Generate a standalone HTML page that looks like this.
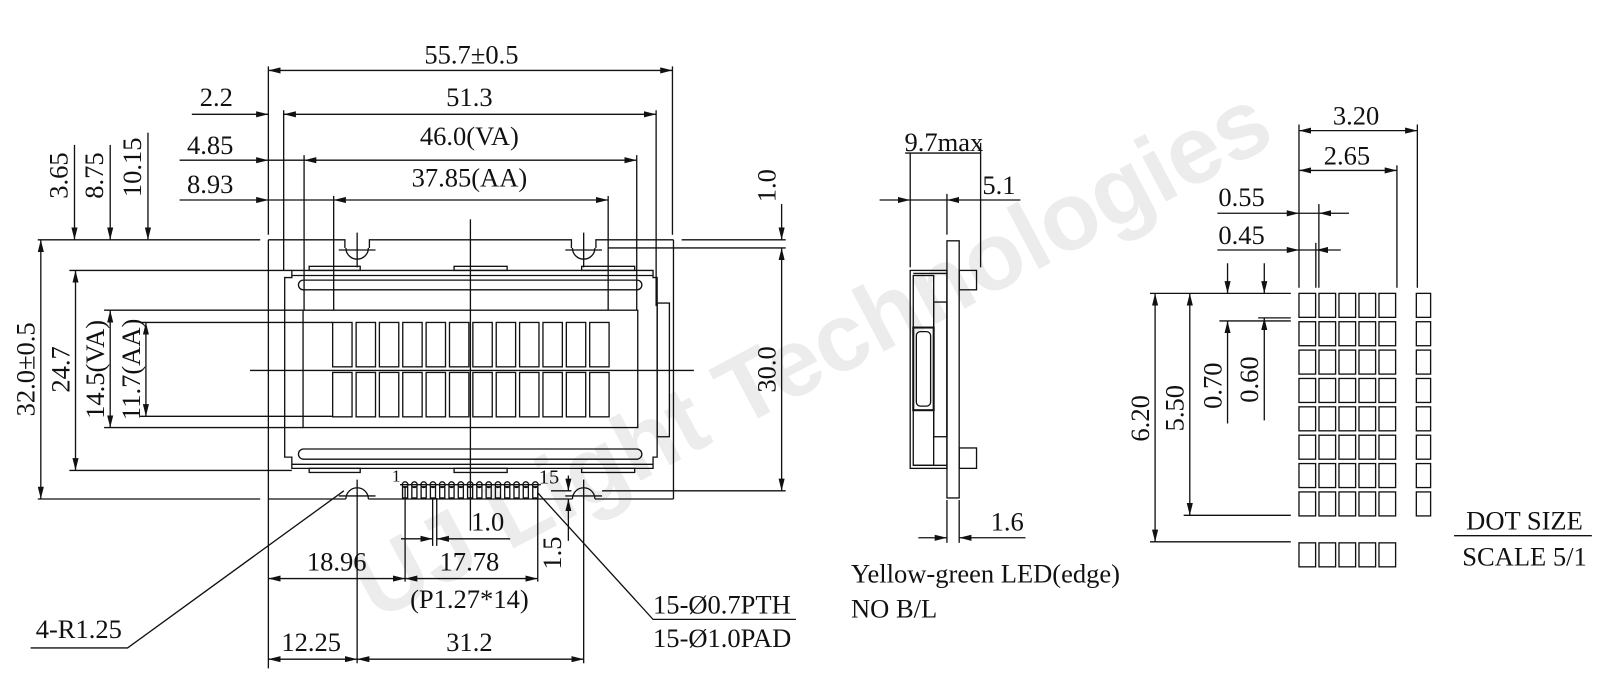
<!DOCTYPE html>
<html><head><meta charset="utf-8"><style>
html,body{margin:0;padding:0;background:#fff;width:1600px;height:700px;overflow:hidden}
svg text{font-family:"Liberation Serif",serif;fill:#111}
</style></head><body>
<svg width="1600" height="700" viewBox="0 0 1568 686" xmlns="http://www.w3.org/2000/svg">
<defs>
<marker id="a" viewBox="0 0 12 6" refX="12" refY="3" markerWidth="12" markerHeight="6" orient="auto-start-reverse" markerUnits="userSpaceOnUse"><path d="M0,0 L12,3 L0,6 z" fill="#111"/></marker>
</defs>
<!-- watermark -->
<text x="795" y="378" transform="rotate(-28 795 345)" text-anchor="middle" style="font-family:'Liberation Sans',sans-serif;font-weight:bold;font-size:94px;fill:#ececec">UJ Light Technologies</text>

<g stroke="#111" stroke-width="1.3" fill="none">
<line x1="263" y1="69" x2="659" y2="69" marker-start="url(#a)" marker-end="url(#a)"/>
<line x1="188" y1="112" x2="263" y2="112" marker-end="url(#a)"/>
<line x1="278" y1="112" x2="643" y2="112" marker-start="url(#a)" marker-end="url(#a)"/>
<line x1="176" y1="157" x2="263" y2="157" marker-end="url(#a)"/>
<line x1="263" y1="157" x2="298" y2="157"/>
<line x1="298" y1="157" x2="624" y2="157" marker-start="url(#a)" marker-end="url(#a)"/>
<line x1="176" y1="196" x2="263" y2="196" marker-end="url(#a)"/>
<line x1="263" y1="196" x2="327" y2="196"/>
<line x1="327" y1="196" x2="596" y2="196" marker-start="url(#a)" marker-end="url(#a)"/>
<line x1="263" y1="65" x2="263" y2="230"/>
<line x1="659" y1="65" x2="659" y2="230"/>
<line x1="278" y1="108" x2="278" y2="265"/>
<line x1="643" y1="108" x2="643" y2="300"/>
<line x1="298" y1="152" x2="298" y2="304"/>
<line x1="624" y1="152" x2="624" y2="304"/>
<line x1="327" y1="192" x2="327" y2="304"/>
<line x1="596" y1="192" x2="596" y2="304"/>
<line x1="73" y1="142" x2="73" y2="235" marker-end="url(#a)"/>
<line x1="108" y1="142" x2="108" y2="235" marker-end="url(#a)"/>
<line x1="145" y1="130" x2="145" y2="235" marker-end="url(#a)"/>
<line x1="37" y1="235" x2="255" y2="235"/>
<polyline points="263,235 338,235 338,243"/>
<polyline points="362,243 362,235 560,235 560,243"/>
<polyline points="584,243 584,235 660,235"/>
<line x1="596" y1="243" x2="770" y2="243"/>
<line x1="668" y1="235" x2="770" y2="235"/>
<line x1="766" y1="200" x2="766" y2="235" marker-end="url(#a)"/>
<line x1="766" y1="243" x2="766" y2="481" marker-start="url(#a)" marker-end="url(#a)"/>
<line x1="263" y1="235" x2="263" y2="489"/>
<line x1="660" y1="235" x2="660" y2="489"/>
<path d="M339,243 A11,11 0 0 0 361,243 M350,228 L350,262 M332,245 L368,245"/>
<path d="M561,243 A11,11 0 0 0 583,243 M572,228 L572,262 M554,245 L590,245"/>
<path d="M339,489 A11,11 0 0 1 361,489 M350,470 L350,650 M332,486 L368,486"/>
<path d="M561,489 A11,11 0 0 1 583,489 M572,470 L572,650 M554,486 L590,486"/>
<line x1="263" y1="489" x2="339" y2="489"/><line x1="361" y1="489" x2="561" y2="489"/><line x1="583" y1="489" x2="660" y2="489"/>
<line x1="37" y1="489" x2="255" y2="489"/>
<line x1="590" y1="481" x2="770" y2="481"/>
<line x1="40" y1="235" x2="40" y2="489" marker-start="url(#a)" marker-end="url(#a)"/>
<line x1="68" y1="265" x2="286" y2="265"/>
<line x1="74" y1="265" x2="74" y2="461" marker-start="url(#a)" marker-end="url(#a)"/>
<line x1="68" y1="461" x2="286" y2="461"/>
<line x1="102" y1="304" x2="297" y2="304"/>
<line x1="108" y1="304" x2="108" y2="419" marker-start="url(#a)" marker-end="url(#a)"/>
<line x1="102" y1="419" x2="297" y2="419"/>
<line x1="137" y1="316" x2="326" y2="316"/>
<line x1="143" y1="316" x2="143" y2="408" marker-start="url(#a)" marker-end="url(#a)"/>
<line x1="137" y1="408" x2="326" y2="408"/>
<path d="M286,265 L640,265 L640,272 L644,272 L644,448 L640,448 L640,459 L286,459 L286,448 L279,448 L279,272 L286,272 Z"/>
<line x1="286" y1="270" x2="640" y2="270"/>
<line x1="286" y1="455" x2="640" y2="455"/>
<rect x="292.5" y="274.5" width="336.5" height="9.5" rx="4.75"/>
<rect x="292.5" y="440" width="336.5" height="10" rx="5"/>
<rect x="303" y="261" width="50" height="4"/><rect x="445" y="261" width="52" height="4"/><rect x="570" y="261" width="52" height="4"/>
<rect x="303" y="459" width="50" height="4"/><rect x="445" y="459" width="52" height="4"/><rect x="570" y="459" width="52" height="4"/>
<rect x="644" y="297" width="12" height="131"/>
<rect x="297" y="304" width="328" height="115"/>
<line x1="461" y1="215" x2="461" y2="520"/>
<line x1="245" y1="363" x2="680" y2="363"/>
<g id="row">
<rect x="326" y="316" width="19" height="43.5"/><rect x="349" y="316" width="19" height="43.5"/><rect x="371.8" y="316" width="19" height="43.5"/><rect x="394.7" y="316" width="19" height="43.5"/><rect x="417.6" y="316" width="19" height="43.5"/><rect x="440.5" y="316" width="19" height="43.5"/><rect x="463.4" y="316" width="19" height="43.5"/><rect x="486.3" y="316" width="19" height="43.5"/><rect x="509.2" y="316" width="19" height="43.5"/><rect x="532.1" y="316" width="19" height="43.5"/><rect x="555" y="316" width="19" height="43.5"/><rect x="577.9" y="316" width="19" height="43.5"/>
</g>
<use href="#row" y="49"/>
<g id="pin"><circle cx="397" cy="475" r="2.8"/><rect x="394.5" y="477" width="5" height="11"/></g>
<use href="#pin" x="9.1"/><use href="#pin" x="18.2"/><use href="#pin" x="27.3"/><use href="#pin" x="36.4"/><use href="#pin" x="45.5"/><use href="#pin" x="54.6"/><use href="#pin" x="63.7"/><use href="#pin" x="72.8"/><use href="#pin" x="81.9"/><use href="#pin" x="91"/><use href="#pin" x="100.1"/><use href="#pin" x="109.2"/><use href="#pin" x="118.3"/><use href="#pin" x="127.6"/>
<line x1="392" y1="475" x2="530" y2="475"/>
<line x1="397" y1="478" x2="397" y2="570"/>
<line x1="527" y1="478" x2="527" y2="570"/>
<line x1="424" y1="488" x2="424" y2="535"/><line x1="428" y1="488" x2="428" y2="535"/>
<line x1="393" y1="528" x2="424" y2="528" marker-end="url(#a)"/>
<line x1="428" y1="528" x2="500" y2="528" marker-start="url(#a)"/>
<line x1="263" y1="567" x2="397" y2="567" marker-start="url(#a)" marker-end="url(#a)"/>
<line x1="397" y1="567" x2="527" y2="567" marker-start="url(#a)" marker-end="url(#a)"/>
<line x1="263" y1="489" x2="263" y2="655"/>
<line x1="263" y1="646" x2="350" y2="646" marker-start="url(#a)" marker-end="url(#a)"/>
<line x1="350" y1="646" x2="572" y2="646" marker-start="url(#a)" marker-end="url(#a)"/>
<line x1="557" y1="530" x2="557" y2="489" marker-end="url(#a)"/>
<line x1="557" y1="466" x2="557" y2="481" marker-end="url(#a)"/>
<line x1="540" y1="481" x2="560" y2="481"/>
<polyline points="30,635 125,635 337,481"/>
<polyline points="780,607 640,607 527,483"/>

<line x1="862" y1="196" x2="892" y2="196" marker-end="url(#a)"/>
<line x1="892" y1="196" x2="928" y2="196"/>
<line x1="928" y1="196" x2="1000" y2="196" marker-start="url(#a)"/>
<line x1="887" y1="150" x2="961" y2="150"/>
<line x1="892" y1="150" x2="892" y2="262"/>
<line x1="961" y1="140" x2="961" y2="262"/>
<line x1="928" y1="190" x2="928" y2="230"/>
<rect x="928" y="236" width="12" height="252"/>
<rect x="892" y="265" width="36" height="194"/>
<polyline points="895,268 928,268"/><polyline points="895,456 928,456"/>
<rect x="895" y="270" width="20" height="186"/>
<rect x="915" y="296" width="13" height="132"/>
<rect x="895" y="321" width="20" height="81" stroke-width="2"/>
<rect x="898" y="325" width="14" height="73" rx="4"/>
<rect x="940" y="265" width="17" height="19"/>
<rect x="940" y="439" width="17" height="20"/>
<line x1="928" y1="490" x2="928" y2="532"/><line x1="940" y1="490" x2="940" y2="532"/>
<line x1="900" y1="527" x2="928" y2="527" marker-end="url(#a)"/>
<line x1="940" y1="527" x2="1005" y2="527" marker-start="url(#a)"/>

<line x1="1273" y1="128" x2="1389" y2="128" marker-start="url(#a)" marker-end="url(#a)"/>
<line x1="1273" y1="167" x2="1369" y2="167" marker-start="url(#a)" marker-end="url(#a)"/>
<line x1="1273" y1="122" x2="1273" y2="282"/>
<line x1="1389" y1="122" x2="1389" y2="282"/>
<line x1="1369" y1="162" x2="1369" y2="282"/>
<line x1="1289.5" y1="238" x2="1289.5" y2="282"/>
<line x1="1292.5" y1="200" x2="1292.5" y2="282"/>
<line x1="1193" y1="209" x2="1273" y2="209" marker-end="url(#a)"/>
<line x1="1273" y1="209" x2="1292.5" y2="209"/>
<line x1="1292.5" y1="209" x2="1322" y2="209" marker-start="url(#a)"/>
<line x1="1193" y1="245" x2="1273" y2="245" marker-end="url(#a)"/>
<line x1="1273" y1="245" x2="1289.5" y2="245"/>
<line x1="1289.5" y1="245" x2="1314" y2="245" marker-start="url(#a)"/>
<line x1="1127" y1="287.5" x2="1265" y2="287.5"/>
<line x1="1127" y1="531" x2="1265" y2="531"/>
<line x1="1160" y1="505" x2="1265" y2="505"/>
<line x1="1195" y1="314.5" x2="1265" y2="314.5"/>
<line x1="1233" y1="311.5" x2="1265" y2="311.5"/>
<line x1="1132" y1="287.5" x2="1132" y2="531" marker-start="url(#a)" marker-end="url(#a)"/>
<line x1="1166" y1="287.5" x2="1166" y2="505" marker-start="url(#a)" marker-end="url(#a)"/>
<line x1="1203" y1="258" x2="1203" y2="287.5" marker-end="url(#a)"/>
<line x1="1203" y1="314.5" x2="1203" y2="415" marker-start="url(#a)"/>
<line x1="1239" y1="258" x2="1239" y2="287.5" marker-end="url(#a)"/>
<line x1="1239" y1="311.5" x2="1239" y2="412" marker-start="url(#a)"/>
<g id="drow">
<rect x="1273" y="287.5" width="16.3" height="23.5"/><rect x="1292.6" y="287.5" width="16.3" height="23.5"/><rect x="1312.2" y="287.5" width="16.3" height="23.5"/><rect x="1331.8" y="287.5" width="16.3" height="23.5"/><rect x="1351.4" y="287.5" width="16.3" height="23.5"/><rect x="1388" y="287.5" width="14" height="23.5"/>
</g>
<use href="#drow" y="27.8"/><use href="#drow" y="55.6"/><use href="#drow" y="83.4"/><use href="#drow" y="111.2"/><use href="#drow" y="139"/><use href="#drow" y="166.8"/><use href="#drow" y="194.6"/>
<rect x="1273" y="532" width="16.3" height="23.5"/><rect x="1292.6" y="532" width="16.3" height="23.5"/><rect x="1312.2" y="532" width="16.3" height="23.5"/><rect x="1331.8" y="532" width="16.3" height="23.5"/><rect x="1351.4" y="532" width="16.3" height="23.5"/>
<line x1="1425" y1="525" x2="1560" y2="525"/>
</g>

<g font-size="26">
<text x="462" y="62" text-anchor="middle">55.7±0.5</text>
<text x="212" y="104" text-anchor="middle">2.2</text>
<text x="460" y="104" text-anchor="middle">51.3</text>
<text x="206" y="151" text-anchor="middle">4.85</text>
<text x="460" y="142" text-anchor="middle">46.0(VA)</text>
<text x="206" y="189" text-anchor="middle">8.93</text>
<text x="460" y="183" text-anchor="middle">37.85(AA)</text>
<text transform="translate(66,172) rotate(-90)" text-anchor="middle">3.65</text>
<text transform="translate(101,172) rotate(-90)" text-anchor="middle">8.75</text>
<text transform="translate(138,164) rotate(-90)" text-anchor="middle">10.15</text>
<text transform="translate(760,182) rotate(-90)" text-anchor="middle">1.0</text>
<text transform="translate(760,362) rotate(-90)" text-anchor="middle">30.0</text>
<text transform="translate(34,362) rotate(-90)" text-anchor="middle">32.0±0.5</text>
<text transform="translate(68,362) rotate(-90)" text-anchor="middle">24.7</text>
<text transform="translate(102,362) rotate(-90)" text-anchor="middle">14.5(VA)</text>
<text transform="translate(137,362) rotate(-90)" text-anchor="middle">11.7(AA)</text>
<text x="478" y="520" text-anchor="middle">1.0</text>
<text x="330" y="559" text-anchor="middle">18.96</text>
<text x="460" y="559" text-anchor="middle">17.78</text>
<text x="460" y="596" text-anchor="middle">(P1.27*14)</text>
<text transform="translate(550,542) rotate(-90)" text-anchor="middle">1.5</text>
<text x="305" y="638" text-anchor="middle">12.25</text>
<text x="460" y="638" text-anchor="middle">31.2</text>
<text x="35" y="625">4-R1.25</text>
<text x="640" y="601">15-Ø0.7PTH</text>
<text x="640" y="634">15-Ø1.0PAD</text>
<text x="925" y="148" text-anchor="middle">9.7max</text>
<text x="979" y="190" text-anchor="middle">5.1</text>
<text x="987" y="520" text-anchor="middle">1.6</text>
<text x="834" y="571">Yellow-green LED(edge)</text>
<text x="834" y="605">NO B/L</text>
<text x="1329" y="122" text-anchor="middle">3.20</text>
<text x="1320" y="161" text-anchor="middle">2.65</text>
<text x="1194" y="202">0.55</text>
<text x="1194" y="239">0.45</text>
<text transform="translate(1126,410) rotate(-90)" text-anchor="middle">6.20</text>
<text transform="translate(1160,400) rotate(-90)" text-anchor="middle">5.50</text>
<text transform="translate(1197,378) rotate(-90)" text-anchor="middle">0.70</text>
<text transform="translate(1233,372) rotate(-90)" text-anchor="middle">0.60</text>
<text x="1494" y="519" text-anchor="middle">DOT SIZE</text>
<text x="1494" y="554" text-anchor="middle">SCALE 5/1</text>
</g>
<text x="384" y="472" font-size="17">1</text>
<text x="528" y="474" font-size="20">15</text>
</svg>
</body></html>
